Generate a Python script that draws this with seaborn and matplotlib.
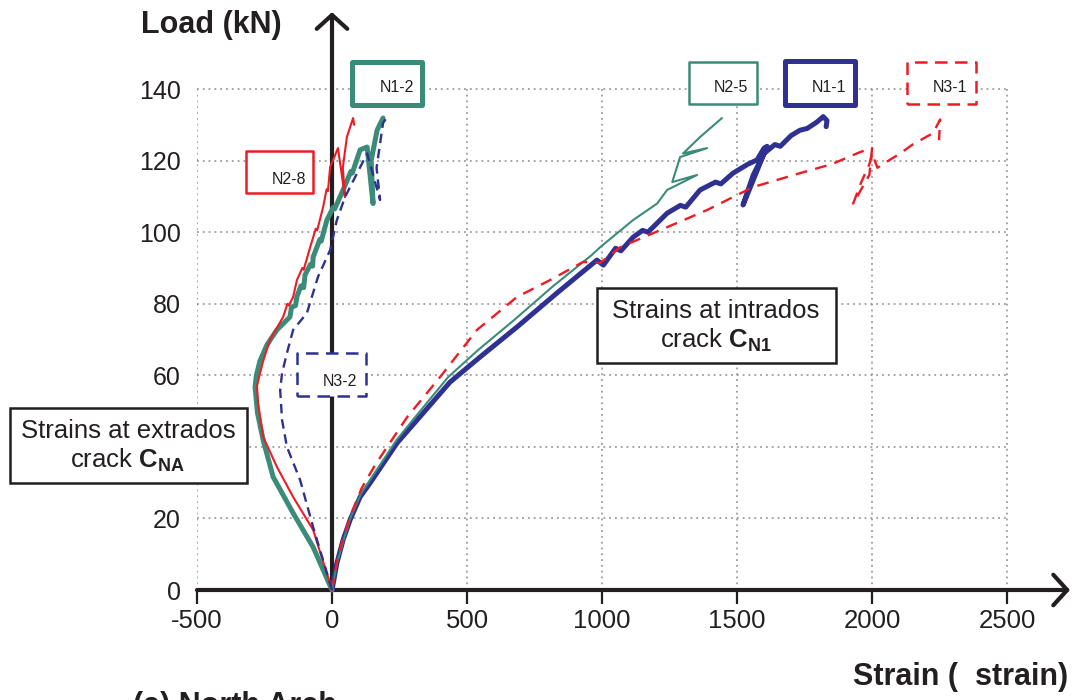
import matplotlib
matplotlib.use("Agg")
import matplotlib.pyplot as plt
import seaborn as sns
import pandas as pd
from matplotlib.patches import Rectangle

# ---------------- data (strain in microstrain, load in kN) ----------------
n1_1_strain = [0, 18, 41, 67, 104, 141, 241, 315, 437, 548, 685, 833, 981, 1005, 1050, 1070,
               1115, 1150, 1170, 1241, 1290, 1310, 1363, 1420, 1440, 1485, 1540, 1574, 1600,
               1611, 1522, 1560, 1600, 1640, 1660, 1700, 1733, 1760, 1796, 1819, 1833, 1830]
n1_1_load = [0, 7.5, 14, 19.6, 26, 29.9, 41.1, 47.5, 58.1, 65.1, 73.5, 83, 92.2, 90.8, 95.5, 94.8,
             98.6, 100.5, 100, 105.3, 107.5, 107, 111.8, 114, 113.5, 116.5, 119, 120.2, 123.5,
             124, 107.6, 116, 122, 124.5, 124, 127, 128.5, 129, 130.8, 132.3, 131.2, 129.5]

n2_5_strain = [0, 20, 45, 70, 108, 240, 310, 430, 540, 675, 820, 960, 993, 1115, 1204, 1241,
               1352, 1260, 1289, 1389, 1300, 1363, 1444]
n2_5_load = [0, 8, 14.5, 20.5, 27, 42, 48.5, 59.5, 67, 75.5, 85, 93.5, 95.8, 103.4, 108, 111.8,
             116, 114, 121, 123.5, 122, 126.6, 131.9]

n3_1_strain = [0, 20, 45, 72, 110, 160, 278, 400, 537, 685, 807, 930, 993, 1067, 1241, 1389,
               1559, 1733, 1850, 1956, 2000, 1990, 1960, 1930, 1960, 1990, 2000, 2020, 2050,
               2104, 2150, 2226, 2252, 2248]
n3_1_load = [0, 8.5, 15.5, 21.5, 28.5, 35, 48.3, 59.5, 72.7, 81.9, 86.6, 91.7, 91.4, 95.8, 101.4,
             106.2, 112.6, 116.5, 119, 122.4, 123.5, 116, 112, 108, 114, 119, 122, 118, 119.5,
             122, 124.5, 127.7, 131.5, 125.7]

n1_2_strain = [0, -70, -144, -218, -255, -276, -285, -280, -267, -241, -204, -156, -150, -135,
               -130, -115, -105, -100, -80, -72, -70, -45, -40, -19, 5, 10, 41, 70, 75, 104, 130,
               152, 145, 167, 189]
n1_2_load = [0, 12, 21.5, 31.6, 41.9, 49.5, 56.7, 60, 64, 68.5, 72.7, 76.3, 79, 79.5, 82, 85,
             84.5, 88, 91, 90.5, 93, 98, 97.5, 103.4, 107, 106.5, 111.8, 117, 116.5, 123, 123.8,
             108, 120, 128.5, 131.9]

n2_8_strain = [0, -70, -144, -204, -255, -274, -278, -267, -255, -230, -181, -165, -160, -144,
               -130, -110, -105, -81, -60, -55, -33, -20, -15, -7, 22, 48, 40, 55, 78, 82]
n2_8_load = [0, 16.8, 26, 34.4, 42.8, 52.3, 57, 60.5, 64, 69.9, 76.3, 80, 79.5, 81.9, 86.6, 90,
             89.5, 95.8, 101, 100.5, 107, 112, 111.5, 118.2, 123.5, 109.8, 118, 126.6, 131.9, 130]

n3_2_strain = [0, -70, -118, -167, -185, -192, -185, -167, -144, -93, -52, -7, 18, 48, 93, 130,
               178, 165, 189, 204]
n3_2_load = [0, 17.6, 30.7, 40, 47.5, 55.9, 60.6, 66.2, 72.7, 77.4, 87.5, 95, 103.4, 109.8,
             116.5, 122, 109, 118, 130.5, 132.2]

x_ticks = [-500, 0, 500, 1000, 1500, 2000, 2500]
x_tick_labels = ["-500", "0", "500", "1000", "1500", "2000", "2500"]
y_ticks = [0, 20, 40, 60, 80, 100, 120, 140]
# the "40" label is hidden behind the extrados text box in the reference
y_tick_labels = ["0", "20", "", "60", "80", "100", "120", "140"]

NAVY = "#2E3192"
TEAL = "#3A8C79"
RED = "#ED1C24"
INK = "#231F20"

# series: name, strain, load, colour, width, linestyle
series = [
    ("N1-1", n1_1_strain, n1_1_load, NAVY, 3.6, "-"),
    ("N2-5", n2_5_strain, n2_5_load, TEAL, 1.5, "-"),
    ("N3-1", n3_1_strain, n3_1_load, RED, 1.7, (0, (5, 3.5))),
    ("N1-2", n1_2_strain, n1_2_load, TEAL, 3.6, "-"),
    ("N2-8", n2_8_strain, n2_8_load, RED, 1.5, "-"),
    ("N3-2", n3_2_strain, n3_2_load, NAVY, 1.7, (0, (4, 2.5))),
]

# ---------------- figure ----------------
sns.set_theme(style="white")
plt.rcParams["font.family"] = ["Liberation Sans", "DejaVu Sans"]
plt.rcParams["axes.unicode_minus"] = False
plt.rcParams["mathtext.fontset"] = "custom"
plt.rcParams["mathtext.rm"] = "Liberation Sans"
plt.rcParams["mathtext.bf"] = "Liberation Sans:bold"

W, H = 1078, 700
fig = plt.figure(figsize=(W / 100, H / 100), dpi=100)
fig.patch.set_facecolor("white")
ax = fig.add_axes([197 / W, 110 / H, 873 / W, 580 / H])
ax.set_facecolor("white")
ax.set_xlim(-500, 2733)
ax.set_ylim(0, 162.1)
for s in ax.spines.values():
    s.set_visible(False)

# dotted grid over the [-500, 2500] x [0, 140] box
grid_kw = dict(color="#8C8C8C", lw=1.1, ls=(0, (1.2, 2.6)), zorder=1)
for xv in x_ticks:
    ax.plot([xv, xv], [0, y_ticks[-1]], **grid_kw)
for yv in y_ticks[1:]:
    ax.plot([x_ticks[0], x_ticks[-1]], [yv, yv], **grid_kw)

# axis lines with arrows
arr = dict(arrowstyle="->,head_length=0.5,head_width=0.55", lw=3, color=INK,
           shrinkA=0, shrinkB=0, mutation_scale=20)
ax.annotate("", xy=(2733, 0), xytext=(-500, 0), arrowprops=arr, annotation_clip=False, zorder=2)
ax.annotate("", xy=(0, 161.5), xytext=(0, 0), arrowprops=arr, annotation_clip=False, zorder=2)

# curves
for name, xs, ys, col, lw, ls in series:
    df = pd.DataFrame({"strain": xs, "load": ys})
    sns.lineplot(data=df, x="strain", y="load", sort=False, estimator=None, ax=ax,
                 color=col, lw=lw, linestyle=ls, zorder=3, solid_joinstyle="round",
                 solid_capstyle="round", clip_on=False)

ax.set_xlabel("")
ax.set_ylabel("")
ax.set_xticks(x_ticks)
ax.set_xticklabels(x_tick_labels)
ax.set_yticks(y_ticks)
ax.set_yticklabels(y_tick_labels)
ax.tick_params(axis="x", direction="out", length=10, width=1.6, color=INK, pad=4,
               labelsize=18.5, labelcolor=INK, bottom=True)
ax.tick_params(axis="y", length=0, pad=11.5, labelsize=18, labelcolor=INK, left=True)


def fx(px):
    return px / W


def fy(py):
    return 1 - py / H


# gauge label boxes: name, (x0, y0, x1, y1) in px, colour, width, style, text x, text y
label_boxes = [
    ("N1-2", (352, 62, 422, 105), TEAL, 3.6, "-", 414, 88),
    ("N2-8", (246, 151, 313, 193), RED, 1.8, "-", 306, 180),
    ("N2-5", (689, 62, 757, 104), TEAL, 1.8, "-", 748, 88),
    ("N1-1", (785, 61, 855, 105), NAVY, 3.6, "-", 846, 88),
    ("N3-1", (907, 62, 976, 104), RED, 1.8, (0, (5, 3)), 967, 88),
    ("N3-2", (297, 353, 366, 396), NAVY, 1.8, (0, (5, 3)), 357, 381),
]
for txt, (x0, y0, x1, y1), col, lw, ls, tx, ty in label_boxes:
    rect = Rectangle((fx(x0), fy(y1)), fx(x1) - fx(x0), fy(y0) - fy(y1),
                     transform=fig.transFigure, facecolor="white", edgecolor=col,
                     lw=lw, ls=ls, joinstyle="round", zorder=5)
    fig.patches.append(rect)
    fig.text(fx(tx), fy(ty), txt, ha="right", va="center", fontsize=11.5, color=INK, zorder=6)

# descriptive boxes
desc_boxes = [
    ((10, 408, 247, 483), 128, "Strains at extrados", r"crack $\mathbf{C}_{\mathbf{NA}}$"),
    ((597, 288, 836, 363), 716, "Strains at intrados", r"crack $\mathbf{C}_{\mathbf{N1}}$"),
]
for (x0, y0, x1, y1), cx, l1, l2 in desc_boxes:
    rect = Rectangle((fx(x0), fy(y1)), fx(x1) - fx(x0), fy(y0) - fy(y1),
                     transform=fig.transFigure, facecolor="white", edgecolor=INK,
                     lw=1.8, zorder=5)
    fig.patches.append(rect)
    fig.text(fx(cx), fy((y0 + y1) / 2 + 1), l1 + "\n" + l2, ha="center", va="center",
             multialignment="center", linespacing=1.2, fontsize=18.5, color=INK, zorder=6)

# axis titles
fig.text(fx(211), fy(25), "Load (kN)", ha="center", va="center", fontsize=22,
         fontweight="bold", color=INK)
fig.text(fx(1068), fy(677), "Strain (  strain)", ha="right", va="center", fontsize=22,
         fontweight="bold", color=INK)
fig.text(fx(133), fy(691), "(a) North Arch", ha="left", va="top", fontsize=22,
         fontweight="bold", color=INK)

fig.savefig("out.png", dpi=100, facecolor="white")
